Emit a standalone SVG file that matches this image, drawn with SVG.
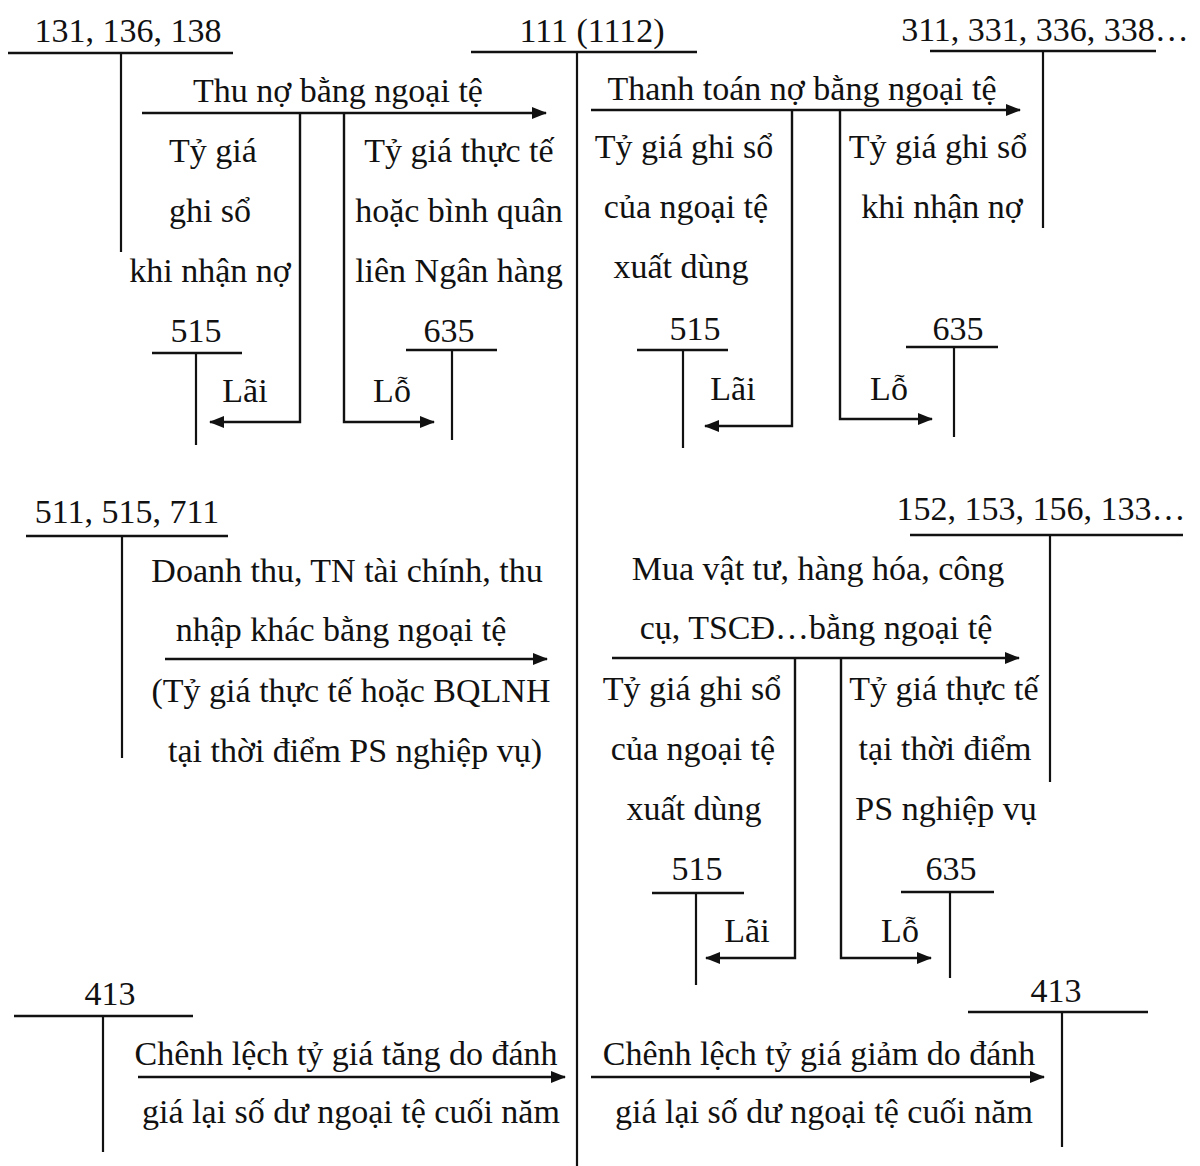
<svg xmlns="http://www.w3.org/2000/svg" width="1200" height="1166" viewBox="0 0 1200 1166">
<style>
text{font-family:"Liberation Serif","Times New Roman",serif;font-size:34px;fill:#111;text-anchor:middle}
.t{stroke:#111;stroke-width:2.5;fill:none}
.v{stroke:#111;stroke-width:2.2;fill:none}
.a{stroke:#111;stroke-width:2.4;fill:none;marker-end:url(#ah)}
</style>
<defs>
<marker id="ah" viewBox="0 0 15 12" refX="14" refY="6" markerWidth="15" markerHeight="12" markerUnits="userSpaceOnUse" orient="auto">
<path d="M0,0 L15,6 L0,12 z" fill="#111"/>
</marker>
</defs>
<rect width="1200" height="1166" fill="#fff"/>

<g id="acc131"><text x="128" y="42">131, 136, 138</text><line class="t" x1="8" y1="53" x2="233" y2="53"/><line class="v" x1="121" y1="53" x2="121" y2="252"/></g>
<g id="acc111"><text x="592" y="42">111 (1112)</text><line class="t" x1="471" y1="52" x2="697" y2="52"/><line class="v" x1="577" y1="52" x2="577" y2="1166"/></g>
<g id="acc311"><text x="1045" y="41">311, 331, 336, 338…</text><line class="t" x1="930" y1="51" x2="1156" y2="51"/><line class="v" x1="1043" y1="51" x2="1043" y2="228"/></g>
<g id="acc515a"><text x="196" y="342">515</text><line class="t" x1="152" y1="353" x2="242" y2="353"/><line class="v" x1="196" y1="353" x2="196" y2="445"/></g>
<g id="acc635a"><text x="449" y="342">635</text><line class="t" x1="406" y1="350" x2="497" y2="350"/><line class="v" x1="452" y1="350" x2="452" y2="440"/></g>
<g id="acc515b"><text x="695" y="340">515</text><line class="t" x1="637" y1="350" x2="728" y2="350"/><line class="v" x1="683" y1="350" x2="683" y2="448"/></g>
<g id="acc635b"><text x="958" y="340">635</text><line class="t" x1="906" y1="347" x2="998" y2="347"/><line class="v" x1="954" y1="347" x2="954" y2="437"/></g>
<g id="acc511"><text x="127" y="523">511, 515, 711</text><line class="t" x1="26" y1="536" x2="228" y2="536"/><line class="v" x1="122" y1="536" x2="122" y2="758"/></g>
<g id="acc152"><text x="1041" y="520">152, 153, 156, 133…</text><line class="t" x1="910" y1="535" x2="1183" y2="535"/><line class="v" x1="1050" y1="535" x2="1050" y2="782"/></g>
<g id="acc515c"><text x="697" y="880">515</text><line class="t" x1="652" y1="893" x2="744" y2="893"/><line class="v" x1="696" y1="893" x2="696" y2="985"/></g>
<g id="acc635c"><text x="951" y="880">635</text><line class="t" x1="901" y1="892" x2="994" y2="892"/><line class="v" x1="950" y1="892" x2="950" y2="978"/></g>
<g id="acc413a"><text x="110" y="1005">413</text><line class="t" x1="14" y1="1016" x2="193" y2="1016"/><line class="v" x1="103" y1="1016" x2="103" y2="1152"/></g>
<g id="acc413b"><text x="1056" y="1002">413</text><line class="t" x1="968" y1="1012" x2="1148" y2="1012"/><line class="v" x1="1062" y1="1012" x2="1062" y2="1147"/></g>

<g id="connectors">
<line class="a" x1="142" y1="113" x2="546" y2="113"/>
<polyline class="a" points="300,113 300,422 210,422"/>
<polyline class="a" points="344,113 344,422 434,422"/>
<line class="a" x1="591" y1="110" x2="1020" y2="110"/>
<polyline class="a" points="792,110 792,426 705,426"/>
<polyline class="a" points="840,110 840,419 932,419"/>
<line class="a" x1="165" y1="659" x2="547" y2="659"/>
<line class="a" x1="612" y1="658" x2="1019" y2="658"/>
<polyline class="a" points="795,658 795,958 706,958"/>
<polyline class="a" points="841,658 841,958 931,958"/>
<line class="a" x1="138" y1="1077" x2="565" y2="1077"/>
<line class="a" x1="591" y1="1077" x2="1044" y2="1077"/>
</g>

<g id="labels">
<text x="338" y="102">Thu nợ bằng ngoại tệ</text>
<text x="213" y="162">Tỷ giá</text>
<text x="210" y="222">ghi sổ</text>
<text x="210" y="282">khi nhận nợ</text>
<text x="459" y="162">Tỷ giá thực tế</text>
<text x="459" y="222">hoặc bình quân</text>
<text x="459" y="282">liên Ngân hàng</text>
<text x="245" y="402">Lãi</text>
<text x="392" y="402">Lỗ</text>

<text x="802" y="100">Thanh toán nợ bằng ngoại tệ</text>
<text x="684" y="158">Tỷ giá ghi sổ</text>
<text x="686" y="218">của ngoại tệ</text>
<text x="681" y="278">xuất dùng</text>
<text x="938" y="158">Tỷ giá ghi sổ</text>
<text x="942" y="218">khi nhận nợ</text>
<text x="733" y="400">Lãi</text>
<text x="889" y="400">Lỗ</text>

<text x="347" y="582">Doanh thu, TN tài chính, thu</text>
<text x="341" y="641">nhập khác bằng ngoại tệ</text>
<text x="351" y="702">(Tỷ giá thực tế hoặc BQLNH</text>
<text x="355" y="762">tại thời điểm PS nghiệp vụ)</text>

<text x="818" y="580">Mua vật tư, hàng hóa, công</text>
<text x="816" y="639">cụ, TSCĐ…bằng ngoại tệ</text>
<text x="692" y="700">Tỷ giá ghi sổ</text>
<text x="693" y="760">của ngoại tệ</text>
<text x="694" y="820">xuất dùng</text>
<text x="944" y="700">Tỷ giá thực tế</text>
<text x="945" y="760">tại thời điểm</text>
<text x="946" y="820">PS nghiệp vụ</text>
<text x="747" y="942">Lãi</text>
<text x="900" y="942">Lỗ</text>

<text x="346" y="1065">Chênh lệch tỷ giá tăng do đánh</text>
<text x="351" y="1123">giá lại số dư ngoại tệ cuối năm</text>
<text x="819" y="1065">Chênh lệch tỷ giá giảm do đánh</text>
<text x="824" y="1123">giá lại số dư ngoại tệ cuối năm</text>
</g>
</svg>
